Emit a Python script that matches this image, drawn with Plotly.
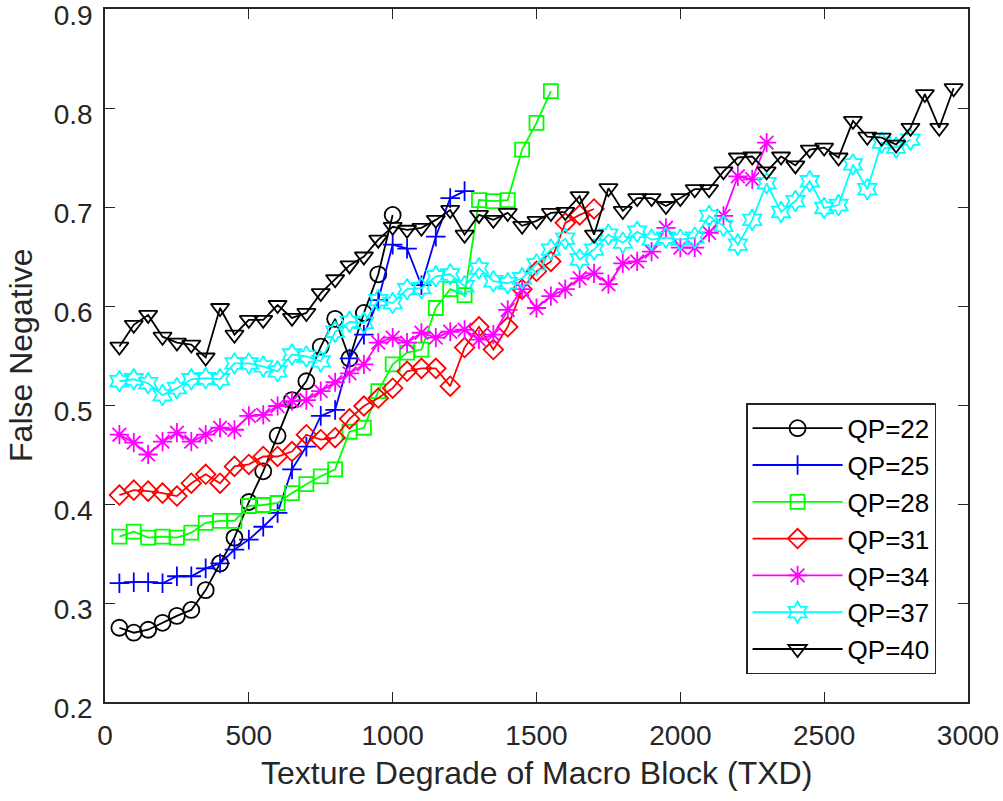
import plotly.graph_objects as go

step = 50

qp22 = [0.275, 0.270, 0.273, 0.280, 0.287, 0.293, 0.313, 0.340, 0.366, 0.402,
        0.433, 0.469, 0.505, 0.524, 0.559, 0.587, 0.547, 0.593, 0.632, 0.692]

qp25 = [0.320, 0.321, 0.321, 0.320, 0.327, 0.327, 0.335, 0.340, 0.354, 0.364,
        0.377, 0.391, 0.435, 0.458, 0.489, 0.495, 0.547, 0.571, 0.606, 0.662,
        0.658, 0.621, 0.670, 0.709, 0.716]

qp28 = [0.367, 0.372, 0.366, 0.367, 0.366, 0.371, 0.381, 0.383, 0.383, 0.398,
        0.399, 0.401, 0.411, 0.420, 0.428, 0.435, 0.473, 0.477, 0.514, 0.541,
        0.553, 0.556, 0.598, 0.617, 0.611, 0.707, 0.706, 0.707, 0.758, 0.785,
        0.817]

qp31 = [0.409, 0.414, 0.413, 0.411, 0.408, 0.421, 0.430, 0.421, 0.438, 0.440,
        0.448, 0.448, 0.453, 0.470, 0.465, 0.467, 0.486, 0.499, 0.507, 0.517,
        0.534, 0.537, 0.537, 0.519, 0.558, 0.579, 0.556, 0.579, 0.617, 0.635,
        0.645, 0.684, 0.692, 0.698]

qp34 = [0.470, 0.462, 0.450, 0.463, 0.472, 0.463, 0.470, 0.477, 0.475, 0.489,
        0.490, 0.499, 0.504, 0.505, 0.514, 0.523, 0.532, 0.541, 0.563, 0.568,
        0.563, 0.573, 0.568, 0.574, 0.576, 0.566, 0.571, 0.596, 0.617, 0.598,
        0.610, 0.617, 0.628, 0.633, 0.622, 0.643, 0.645, 0.655, 0.679, 0.659,
        0.659, 0.674, 0.691, 0.731, 0.728, 0.765]

qp37 = [0.524, 0.526, 0.522, 0.510, 0.517, 0.526, 0.527, 0.526, 0.542, 0.542,
        0.539, 0.534, 0.551, 0.549, 0.544, 0.574, 0.584, 0.583, 0.606, 0.603,
        0.617, 0.618, 0.630, 0.632, 0.620, 0.638, 0.625, 0.623, 0.628, 0.642,
        0.657, 0.668, 0.647, 0.657, 0.672, 0.664, 0.675, 0.667, 0.669, 0.667,
        0.669, 0.691, 0.681, 0.662, 0.687, 0.724, 0.695, 0.706, 0.726, 0.699,
        0.702, 0.743, 0.718, 0.765, 0.760, 0.768]

qp40 = [0.559, 0.581, 0.591, 0.569, 0.563, 0.561, 0.548, 0.598, 0.571, 0.586,
        0.586, 0.601, 0.588, 0.593, 0.613, 0.627, 0.641, 0.650, 0.667, 0.680,
        0.677, 0.679, 0.687, 0.697, 0.672, 0.692, 0.687, 0.694, 0.681, 0.686,
        0.694, 0.695, 0.711, 0.672, 0.719, 0.696, 0.709, 0.709, 0.701, 0.709,
        0.718, 0.718, 0.736, 0.750, 0.751, 0.736, 0.751, 0.742, 0.758, 0.760,
        0.750, 0.787, 0.771, 0.770, 0.763, 0.780, 0.814, 0.780, 0.820]

names = ["QP=22", "QP=25", "QP=28", "QP=31", "QP=34", "QP=37", "QP=40"]
series = [qp22, qp25, qp28, qp31, qp34, qp37, qp40]
colors = ["#000000", "#0000ff", "#00ff00", "#ff0000", "#ff00ff", "#00ffff", "#000000"]
symbols = ["circle-open", "cross-thin-open", "square-open", "diamond-open",
           "asterisk-open", "hexagram-open", "triangle-down-open"]
sizes = [16, 14, 14, 15, 16, 16, 16]

x_ticks = [0, 500, 1000, 1500, 2000, 2500, 3000]
y_ticks = [0.2, 0.3, 0.4, 0.5, 0.6, 0.7, 0.8, 0.9]

FONT = "Liberation Sans, Arial, sans-serif"
TXT = "#262626"

fig = go.Figure()
for name, ys, c, s, sz in zip(names, series, colors, symbols, sizes):
    xs = [step * (i + 1) for i in range(len(ys))]
    fig.add_trace(go.Scatter(
        x=xs, y=ys, name=name, mode="lines+markers",
        line=dict(color=c, width=1.8),
        marker=dict(symbol=s, size=sz, color=c, line=dict(width=1.8, color=c)),
    ))

axis_common = dict(
    showline=True, linecolor=TXT, linewidth=1.5, mirror="ticks",
    ticks="inside", ticklen=10, tickwidth=1.2, tickcolor=TXT,
    showgrid=False, zeroline=False, automargin=False,
    ticklabeloverflow="allow",
    tickfont=dict(family=FONT, size=28, color=TXT),
)

fig.update_xaxes(range=[0, 3000], tickvals=x_ticks, ticktext=[str(v) for v in x_ticks],
                 ticklabelstandoff=8, **axis_common)
fig.update_yaxes(range=[0.2, 0.9], tickvals=y_ticks, ticktext=[f"{v:.1f}" for v in y_ticks],
                 ticklabelstandoff=5, ticklabelshift=6, **axis_common)

fig.add_annotation(text="Texture Degrade of Macro Block (TXD)", xref="paper", yref="paper",
                   x=0.5, y=-0.1025, xanchor="center", yanchor="middle", showarrow=False,
                   font=dict(family=FONT, size=32, color=TXT))
fig.add_annotation(text="False Negative", xref="paper", yref="paper",
                   x=-0.098, y=0.5, xanchor="center", yanchor="middle", showarrow=False,
                   textangle=-90, font=dict(family=FONT, size=32, color=TXT))

fig.update_layout(
    width=1003, height=801,
    margin=dict(l=105, r=35, t=9, b=99, autoexpand=False),
    paper_bgcolor="white", plot_bgcolor="white",
    showlegend=True,
    legend=dict(
        x=0.963, y=0.04, xanchor="right", yanchor="bottom",
        bgcolor="white", bordercolor=TXT, borderwidth=1.5,
        font=dict(family=FONT, size=26, color="#000000"),
        itemwidth=90, tracegroupgap=0,
    ),
)

fig.write_html("out.html", config={"displayModeBar": False},
               post_script="document.body.style.margin='0px';")
